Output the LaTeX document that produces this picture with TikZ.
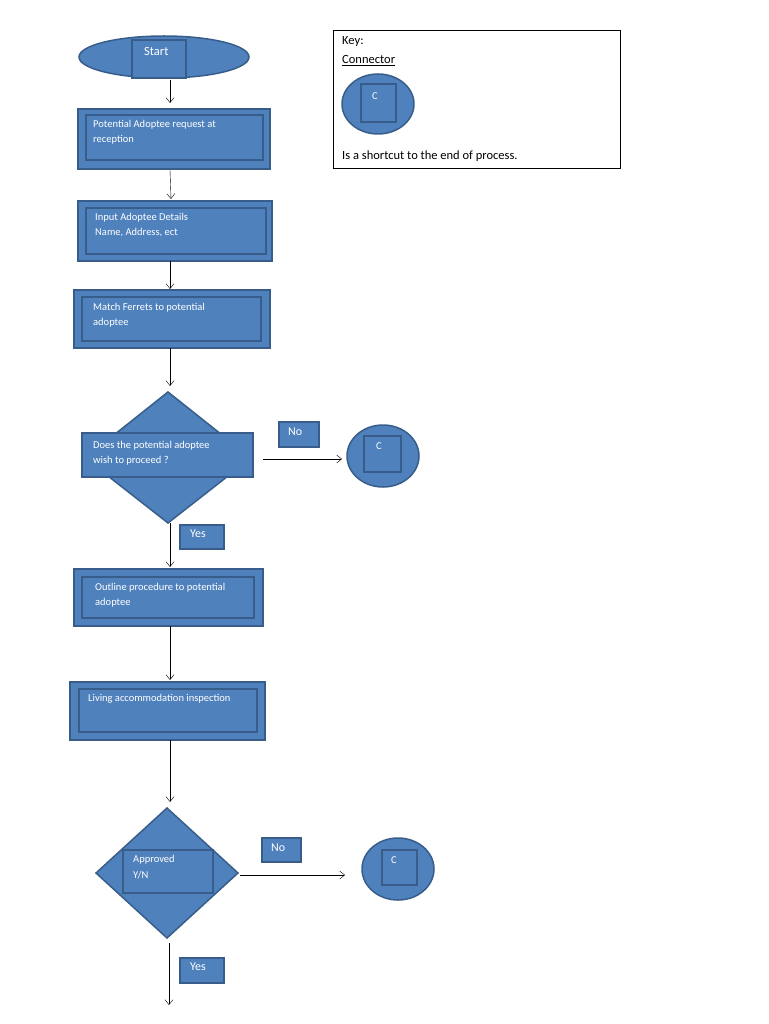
\documentclass[tikz,border=0pt]{standalone}
\usepackage{fontspec}
\setmainfont{Carlito}
\usetikzlibrary{shapes.geometric,arrows.meta}
\definecolor{fl}{HTML}{4F81BD}
\definecolor{bd}{HTML}{385D8A}
\begin{document}
\begin{tikzpicture}[x=1pt,y=-1pt,
  sh/.style={fill=fl,draw=bd,line width=1.5pt},
  t/.style={text=white,font=\fontsize{10.5}{15.5}\selectfont,anchor=north west,inner sep=0pt,align=left},
  >={Straight Barb[length=5pt,width=8pt]}]
\useasboundingbox (0,0) rectangle (768,1024);
% Start
\draw[sh] (164,57) ellipse (85 and 21);
\draw[sh] (132,40) rectangle (186,78);
\node[t,font=\fontsize{12.5}{15}\selectfont] (st) at (144,47) {Start};
% boxes
\newcommand\pbox[9]{%
 \draw[sh] (#1,#3) rectangle (#2,#4); \draw[sh] (#5,#6) rectangle (#7,#8);}
\pbox{78}{270}{109}{169}{86}{115}{263}{160}{}
\node[t] (b1) at (93,120) {Potential Adoptee request at\\reception};
\pbox{78}{272}{201}{261}{86}{208}{266}{254}{}
\node[t] (b2) at (95,213) {Input Adoptee Details\\Name, Address, ect};
\pbox{74}{270}{290}{348}{82}{297}{261}{341}{}
\node[t] (b3) at (93,303) {Match Ferrets to potential\\adoptee};
% diamond 1
\draw[sh] (168,392) -- (251,458) -- (168,523) -- (85,458) -- cycle;
\draw[sh] (82,433) rectangle (253,477);
\node[t] (d1) at (93,441) {Does the potential adoptee\\wish to proceed ?};
\draw[sh] (279,422) rectangle (319,447);
\node[t,font=\fontsize{12}{14}\selectfont] (no1) at (288,428) {No};
\draw[sh] (383,456) ellipse (36 and 31);
\draw[sh] (364,436) rectangle (401,472);
\node[t] (c1) at (376,442) {C};
\draw[sh] (180,525) rectangle (224,549);
\node[t,font=\fontsize{12}{14}\selectfont] (y1) at (190,530) {Yes};
\pbox{74}{263}{569}{626}{82}{577}{254}{618}{}
\node[t] (b4) at (95,583) {Outline procedure to potential\\adoptee};
\pbox{70}{265}{682}{740}{79}{689}{257}{732}{}
\node[t] (b5) at (88,694) {Living accommodation inspection};
% diamond 2
\draw[sh] (167,808) -- (238,873) -- (167,938) -- (96,873) -- cycle;
\draw[sh] (123,850) rectangle (213,893);
\node[t] (d2) at (133,855) {Approved\\Y/N};
\draw[sh] (262,838) rectangle (301,862);
\node[t,font=\fontsize{12}{14}\selectfont] (no2) at (271,844) {No};
\draw[sh] (398,869) ellipse (36 and 31);
\draw[sh] (382,850) rectangle (417,885);
\node[t] (c2) at (391,856) {C};
\draw[sh] (180,958) rectangle (224,983);
\node[t,font=\fontsize{12}{14}\selectfont] (y2) at (190,963) {Yes};
% arrows
\draw[->] (170,80) -- (170,103);
\draw[->] (170,170) -- (171,199);
\draw[->] (170,261) -- (170,289);
\draw[->] (170,348) -- (170,386);
\draw[->] (263,459) -- (342,459);
\draw[->] (170,523) -- (170,567);
\draw[->] (170,626) -- (170,680);
\draw[->] (170,740) -- (170,802);
\draw[->] (240,875) -- (345,875);
\draw[->] (169,943) -- (169,1005);
% key
\draw[black,thin] (333,30) rectangle (620,168);
\node[anchor=north west,inner sep=0pt,font=\fontsize{12.5}{15}\selectfont] (k1) at (342,36) {Key:};
\node[anchor=north west,inner sep=0pt,font=\fontsize{12.5}{15}\selectfont] (k2) at (342,55) {\underline{Connector}};
\draw[sh] (378,104) ellipse (36 and 30);
\draw[sh] (361,84) rectangle (396,122);
\node[t] (kc) at (372,92) {C};
\node[anchor=north west,inner sep=0pt,font=\fontsize{12.5}{15}\selectfont] (k3) at (342,151) {Is a shortcut to the end of process.};
\end{tikzpicture}
\end{document}
